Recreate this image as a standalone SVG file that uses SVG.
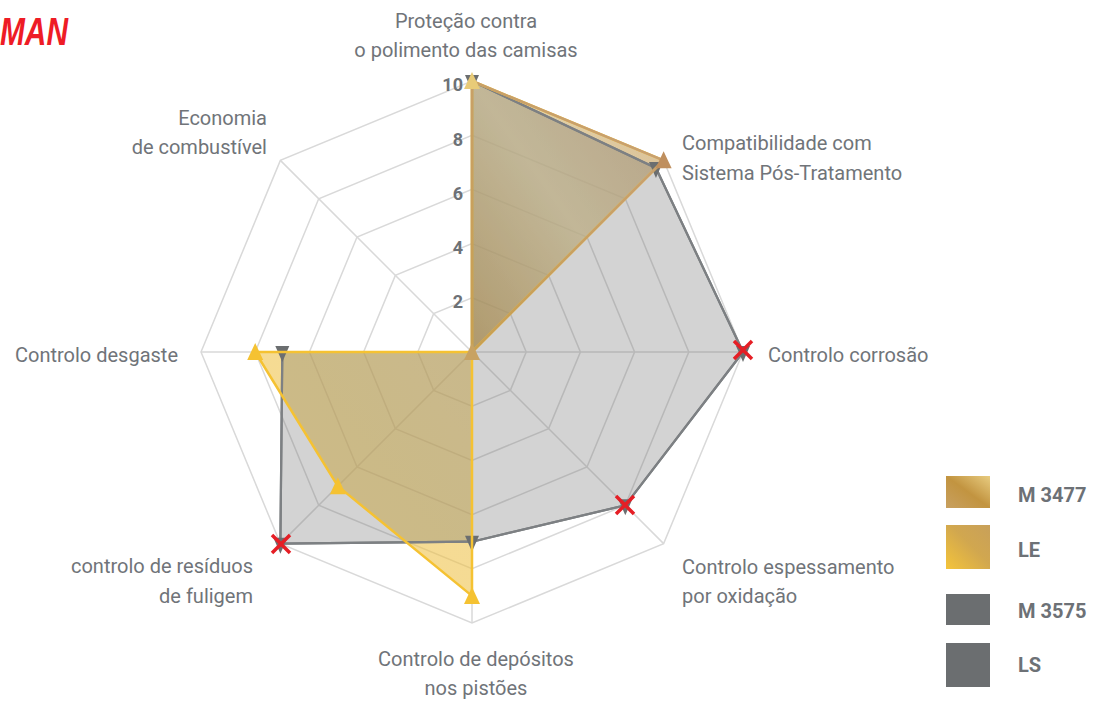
<svg xmlns="http://www.w3.org/2000/svg" width="1094" height="701" viewBox="0 0 1094 701">
<style>
.lbl{font-family:Roboto,"Liberation Sans",sans-serif;font-size:20px;fill:#707479}
.tick{font-family:Roboto,"Liberation Sans",sans-serif;font-size:18px;font-weight:bold;fill:#6d7176}
.leg{font-family:Roboto,"Liberation Sans",sans-serif;font-size:20px;font-weight:bold;fill:#6d7176}
.grid{fill:none;stroke:#d9d9d9;stroke-width:1.5}
.grayf{fill:#6b6e70;fill-opacity:0.163;stroke:#7d8083;stroke-width:2.2;stroke-linejoin:round}
.lef{fill:url(#gLE);fill-opacity:0.58;stroke:none}
.m34f{fill:url(#gM34);fill-opacity:0.45;stroke:none}
.lel{fill:none;stroke:#f5c232;stroke-width:2.5;stroke-linejoin:round}
.m34l{fill:none;stroke:url(#lM34);stroke-width:2.5;stroke-linejoin:round}
.dn{fill:#6b6e70}
.upY{fill:#f5c232}
.xm{stroke:#e51e25;stroke-width:3.5;fill:none}
</style>
<defs>
<linearGradient id="gM34" x1="0" y1="1" x2="1" y2="0">
<stop offset="0" stop-color="#a07838"/>
<stop offset="0.5" stop-color="#e0d8b8"/>
<stop offset="1" stop-color="#c09878"/>
</linearGradient>
<linearGradient id="gLE" x1="1" y1="0" x2="0" y2="1">
<stop offset="0" stop-color="#d8b868"/>
<stop offset="0.5" stop-color="#e8be50"/>
<stop offset="1" stop-color="#f5c43a"/>
</linearGradient>
<linearGradient id="lM34" gradientUnits="userSpaceOnUse" x1="472" y1="352" x2="664" y2="160">
<stop offset="0" stop-color="#c9a050"/>
<stop offset="1" stop-color="#c8a070"/>
</linearGradient>
<linearGradient id="sM34" x1="0" y1="1" x2="1" y2="0">
<stop offset="0" stop-color="#c8a060"/>
<stop offset="0.5" stop-color="#c29440"/>
<stop offset="1" stop-color="#e8cc80"/>
</linearGradient>
<linearGradient id="sLE" x1="1" y1="0" x2="0" y2="1">
<stop offset="0" stop-color="#c8a05a"/>
<stop offset="0.45" stop-color="#d1a74f"/>
<stop offset="1" stop-color="#f4c43a"/>
</linearGradient>
<path id="up" d="M0,-9 L8,8 L-8,8 Z"/>
<path id="down" d="M-7,-6 L7,-6 L0,10 Z"/>
<path id="xmark" d="M-9,-9 L9,9 M9,-9 L-9,9"/>
</defs>
<rect width="1094" height="701" fill="#ffffff"/>
<g id="logo">
<text x="0" y="45" font-family="'Liberation Sans',Arial,sans-serif" font-size="39" font-weight="bold" font-style="italic" fill="#ee1c25" textLength="68" lengthAdjust="spacingAndGlyphs">MAN</text>
</g>
<g id="grid">
<polygon class="grid" points="472,297.8 510.33,313.67 526.2,352 510.33,390.33 472,406.2 433.67,390.33 417.8,352 433.67,313.67"/>
<polygon class="grid" points="472,243.6 548.65,275.35 580.4,352 548.65,428.65 472,460.4 395.35,428.65 363.6,352 395.35,275.35"/>
<polygon class="grid" points="472,189.4 586.98,237.02 634.6,352 586.98,466.98 472,514.6 357.02,466.98 309.4,352 357.02,237.02"/>
<polygon class="grid" points="472,135.2 625.3,198.7 688.8,352 625.3,505.3 472,568.8 318.7,505.3 255.2,352 318.7,198.7"/>
<polygon class="grid" points="472,81 663.63,160.37 743,352 663.63,543.63 472,623 280.37,543.63 201,352 280.37,160.37"/>
<path class="grid" d="M472,352 L472,81 M472,352 L663.63,160.37 M472,352 L743,352 M472,352 L663.63,543.63 M472,352 L472,623 M472,352 L280.37,543.63 M472,352 L201,352 M472,352 L280.37,160.37"/>
</g>
<g id="ticks">
<text class="tick" x="463" y="91" text-anchor="end">10</text>
<text class="tick" x="463" y="146" text-anchor="end">8</text>
<text class="tick" x="463" y="200" text-anchor="end">6</text>
<text class="tick" x="463" y="254" text-anchor="end">4</text>
<text class="tick" x="463" y="308" text-anchor="end">2</text>
</g>
<g id="series-LE-fill">
<polygon class="lef" points="472,81 663.63,160.37 472,352 472,352 472,595.9 337.86,486.14 255.2,352 472,352"/>
</g>
<g id="series-M3477-fill">
<polygon class="m34f" points="472,81 663.63,160.37 472,352"/>
</g>
<g id="series-LS">
<polygon class="grayf" points="472,81 655.96,168.04 743,352 625.3,505.3 472,541.7 280.37,543.63 282.3,352 472,352"/>
</g>
<g id="series-M3575">
<polygon class="grayf" points="472,81 655.96,168.04 743,352 625.3,505.3 472,541.7 280.37,543.63 282.3,352 472,352"/>
<use href="#down" class="dn" x="472" y="81"/>
<use href="#down" class="dn" x="655.96" y="168.04"/>
<use href="#down" class="dn" x="743" y="352"/>
<use href="#down" class="dn" x="625.3" y="505.3"/>
<use href="#down" class="dn" x="472" y="541.7"/>
<use href="#down" class="dn" x="280.37" y="543.63"/>
<use href="#down" class="dn" x="282.3" y="352"/>
</g>
<g id="series-LE">
<polygon class="lel" points="472,81 663.63,160.37 472,352 472,352 472,595.9 337.86,486.14 255.2,352 472,352"/>
<use href="#up" class="upY" x="472" y="595.9"/>
<use href="#up" class="upY" x="337.86" y="486.14"/>
<use href="#up" class="upY" x="255.2" y="352"/>
</g>
<g id="series-M3477">
<polygon class="m34l" points="472,81 663.63,160.37 472,352"/>
<use href="#up" fill="#e8cb78" x="472" y="81"/>
<use href="#up" fill="#bf8f5e" x="663.63" y="160.37"/>
<use href="#up" fill="#c8a262" x="472" y="352"/>
</g>
<g id="flags">
<use href="#xmark" class="xm" x="743" y="350"/>
<use href="#xmark" class="xm" x="625" y="505"/>
<use href="#xmark" class="xm" x="281" y="544"/>
</g>
<g id="axis-labels">
<g id="lbl-protecao"><text class="lbl" x="466" y="28" text-anchor="middle">Proteção contra</text><text class="lbl" x="466" y="57" text-anchor="middle">o polimento das camisas</text></g>
<g id="lbl-compat"><text class="lbl" x="682" y="150">Compatibilidade com</text><text class="lbl" x="682" y="180">Sistema Pós-Tratamento</text></g>
<g id="lbl-corrosao"><text class="lbl" x="768" y="362">Controlo corrosão</text></g>
<g id="lbl-espessamento"><text class="lbl" x="682" y="574">Controlo espessamento</text><text class="lbl" x="682" y="603">por oxidação</text></g>
<g id="lbl-depositos"><text class="lbl" x="476" y="666" text-anchor="middle">Controlo de depósitos</text><text class="lbl" x="476" y="695" text-anchor="middle">nos pistões</text></g>
<g id="lbl-residuos"><text class="lbl" x="253" y="573" text-anchor="end">controlo de resíduos</text><text class="lbl" x="253" y="603" text-anchor="end">de fuligem</text></g>
<g id="lbl-desgaste"><text class="lbl" x="178" y="362" text-anchor="end">Controlo desgaste</text></g>
<g id="lbl-economia"><text class="lbl" x="267" y="125" text-anchor="end">Economia</text><text class="lbl" x="267" y="154" text-anchor="end">de combustível</text></g>
</g>
<g id="legend">
<g id="leg-M3477"><rect x="946" y="476" width="44" height="32" fill="url(#sM34)"/><text class="leg" x="1018" y="502">M 3477</text></g>
<g id="leg-LE"><rect x="946" y="525" width="44" height="44" fill="url(#sLE)"/><text class="leg" x="1018" y="557">LE</text></g>
<g id="leg-M3575"><rect x="946" y="594" width="44" height="31" fill="#6b6e70"/><text class="leg" x="1018" y="618">M 3575</text></g>
<g id="leg-LS"><rect x="946" y="643" width="44" height="44" fill="#6b6e70"/><text class="leg" x="1018" y="672">LS</text></g>
</g>
</svg>
